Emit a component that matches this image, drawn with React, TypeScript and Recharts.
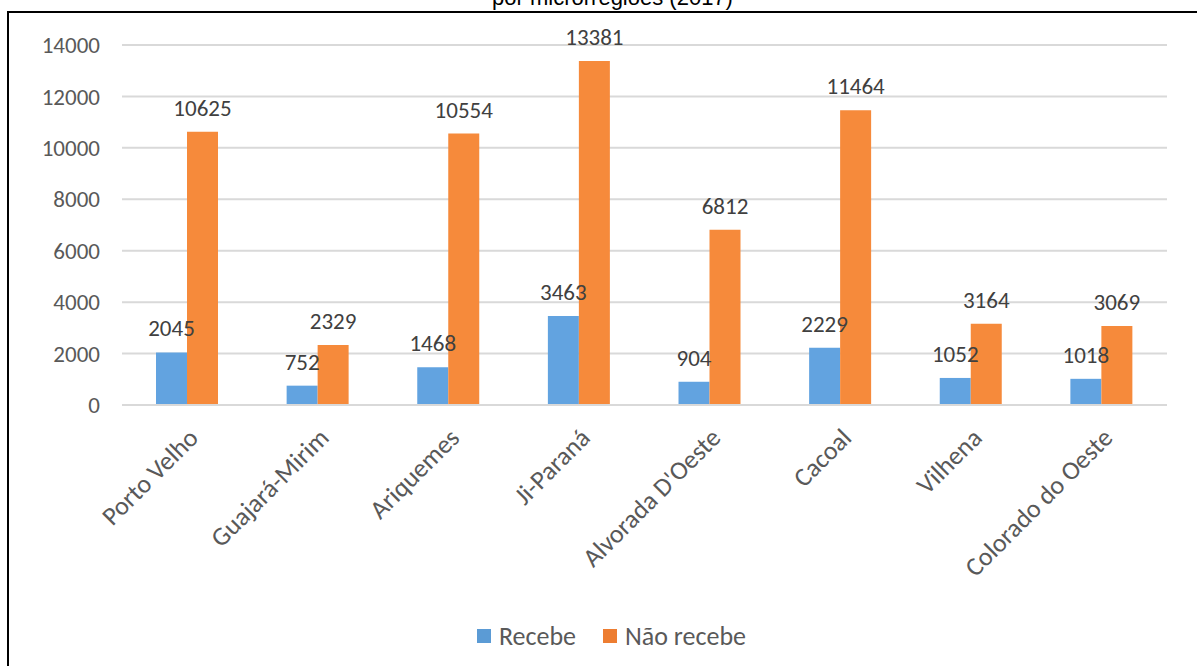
import { BarChart, Bar, XAxis, YAxis, CartesianGrid, Legend, LabelList } from "recharts";

const regions = [
  "Porto Velho",
  "Guajará-Mirim",
  "Ariquemes",
  "Ji-Paraná",
  "Alvorada D'Oeste",
  "Cacoal",
  "Vilhena",
  "Colorado do Oeste",
];
const recebe = [2045, 752, 1468, 3463, 904, 2229, 1052, 1018];
const naoRecebe = [10625, 2329, 10554, 13381, 6812, 11464, 3164, 3069];
const yTicks = [0, 2000, 4000, 6000, 8000, 10000, 12000, 14000];

const seriesNames = ["Recebe", "Não recebe"];
const legendColors = ["#5b9bd5", "#ed7d31"];

const data = regions.map((name, i) => ({
  name,
  recebe: recebe[i],
  naoRecebe: naoRecebe[i],
}));

const FONT = "Carlito, Lato, sans-serif";

function AngledTick(props: any) {
  const { x, y, payload } = props;
  return (
    <text
      x={x + 6}
      y={y + 20}
      transform={`rotate(-45, ${x + 6}, ${y + 20})`}
      textAnchor="end"
      dy="0.35em"
      fontSize={26}
      fontFamily={FONT}
      fill="#595959"
    >
      {payload.value}
    </text>
  );
}

function LegendBox() {
  return (
    <div
      style={{
        height: 60,
        display: "flex",
        justifyContent: "center",
        alignItems: "center",
        gap: 27,
        fontFamily: FONT,
        fontSize: 26,
        color: "#595959",
        paddingLeft: 56,
      }}
    >
      {seriesNames.map((s, i) => (
        <div key={s} style={{ display: "flex", alignItems: "center" }}>
          <span
            style={{
              width: 14,
              height: 14,
              background: legendColors[i],
              marginRight: 8,
              display: "inline-block",
            }}
          />
          {s}
        </div>
      ))}
    </div>
  );
}

export default function App() {
  return (
    <div
      style={{
        position: "absolute",
        left: 0,
        top: 0,
        width: 1197,
        height: 666,
        overflow: "hidden",
        background: "#fff",
      }}
    >
      <div
        style={{
          position: "absolute",
          left: 7,
          top: 11,
          width: 1200,
          height: 700,
          borderLeft: "2px solid #000",
          borderTop: "2px solid #000",
        }}
      />
      <div
        style={{
          position: "absolute",
          left: 0,
          width: 1225,
          top: -13,
          textAlign: "center",
          fontFamily: "'Liberation Sans', Arial, sans-serif",
          fontSize: 22,
          lineHeight: "22px",
        }}
      >
        por microrregiões (2017)
      </div>
      <div style={{ position: "absolute", left: 0, top: 0 }}>
        <BarChart
          width={1197}
          height={666}
          data={data}
          margin={{ top: 45, right: 30, bottom: 0, left: 0 }}
          barGap={0}
          barSize={31}
        >
          <CartesianGrid vertical={false} stroke="#d9d9d9" strokeWidth={2} />
          <XAxis
            dataKey="name"
            interval={0}
            height={201}
            tickLine={false}
            axisLine={{ stroke: "#d9d9d9", strokeWidth: 2 }}
            tick={<AngledTick />}
          />
          <YAxis
            width={122}
            domain={[0, 14000]}
            ticks={yTicks}
            tickSize={0}
            tickMargin={22}
            tickLine={false}
            axisLine={false}
            tick={{ fontSize: 23, fontFamily: FONT, fill: "#595959" }}
          />
          <Legend verticalAlign="bottom" height={60} content={<LegendBox />} />
          <Bar dataKey="recebe" name={seriesNames[0]} fill="#62a3e0" isAnimationActive={false}>
            <LabelList
              dataKey="recebe"
              position="top"
              offset={16}
              fontSize={23}
              fontFamily={FONT}
              fill="#404040"
            />
          </Bar>
          <Bar dataKey="naoRecebe" name={seriesNames[1]} fill="#f68a3b" isAnimationActive={false}>
            <LabelList
              dataKey="naoRecebe"
              position="top"
              offset={16}
              fontSize={23}
              fontFamily={FONT}
              fill="#404040"
            />
          </Bar>
        </BarChart>
      </div>
    </div>
  );
}
